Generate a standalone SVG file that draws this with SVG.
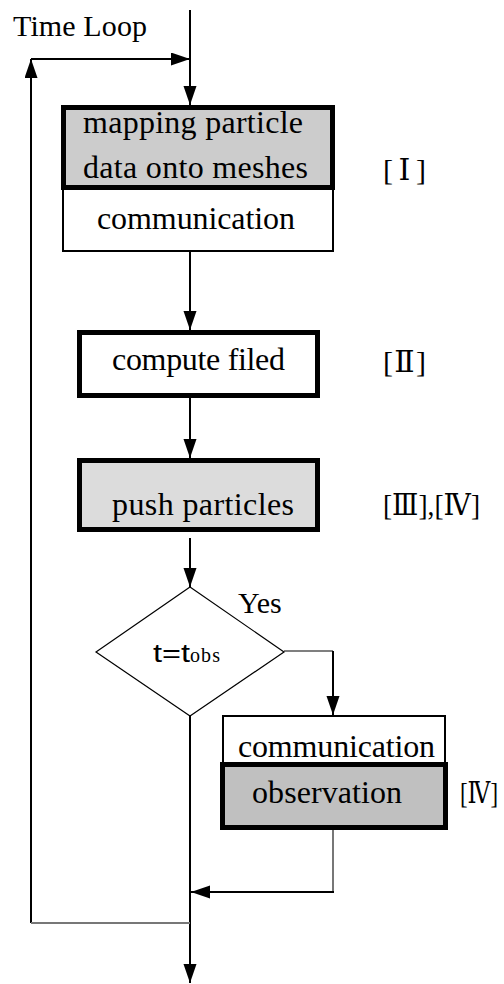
<svg xmlns="http://www.w3.org/2000/svg" width="504" height="984" viewBox="0 0 504 984">
  <style>
    text { font-family: "Liberation Serif", "DejaVu Serif", "Noto Sans CJK JP", serif; fill: #000; }
    .box { font-size: 32px; }
    .lbl { font-size: 30px; }
    .line { fill: none; stroke: #000; stroke-width: 2; }
    .thin { fill: none; stroke: #000; stroke-width: 1.2; }
    .grey { fill: none; stroke: #777; stroke-width: 2; }
    .thick { stroke: #000; stroke-width: 5; }
  </style>
  <defs>
    <marker id="arrow" markerUnits="userSpaceOnUse" markerWidth="20" markerHeight="14" refX="19" refY="6.5" orient="auto">
      <path d="M0,0 L19,6.5 L0,13 z" fill="#000"/>
    </marker>
  </defs>
  <rect width="504" height="984" fill="#fff"/>

  <!-- connectors -->
  <g id="connectors">
    <line class="line" x1="190" y1="10" x2="190" y2="105" marker-end="url(#arrow)"/>
    <line class="line" x1="31" y1="923" x2="31" y2="59" marker-end="url(#arrow)"/>
    <line class="line" x1="31" y1="59" x2="190" y2="59" marker-end="url(#arrow)"/>
    <line class="line" x1="190" y1="252" x2="190" y2="330" marker-end="url(#arrow)"/>
    <line class="line" x1="190" y1="398" x2="190" y2="458" marker-end="url(#arrow)"/>
    <line class="line" x1="190" y1="538" x2="190" y2="587" marker-end="url(#arrow)"/>
    <polyline class="thin" points="284,651 333,651"/>
    <line class="line" x1="333" y1="651" x2="333" y2="715" marker-end="url(#arrow)"/>
    <line class="grey" x1="333" y1="830" x2="333" y2="892"/>
    <line class="line" x1="334" y1="892" x2="191" y2="892" marker-end="url(#arrow)"/>
    <line class="line" x1="190" y1="716" x2="190" y2="983" marker-end="url(#arrow)"/>
    <line class="grey" x1="31" y1="923" x2="190" y2="923"/>
  </g>

  <text class="lbl" x="13" y="36" textLength="134">Time Loop</text>

  <!-- step I: mapping + communication -->
  <g id="node-mapping">
    <rect x="63" y="189" width="270" height="62" fill="#fff" stroke="#000" stroke-width="2"/>
    <rect class="thick" x="63.5" y="107.5" width="269" height="80" fill="#cccccc"/>
    <text class="box" x="83" y="133" textLength="220">mapping particle</text>
    <text class="box" x="83" y="178" textLength="225">data onto meshes</text>
    <text class="box" x="97" y="229" textLength="198">communication</text>
    <text class="lbl" x="383" y="180" textLength="43">[ Ⅰ ]</text>
  </g>

  <!-- step II -->
  <g id="node-field">
    <rect class="thick" x="79.5" y="332.5" width="238" height="63" fill="#fff"/>
    <text class="box" x="112" y="370" textLength="173">compute filed</text>
    <text class="lbl" x="383" y="372" textLength="43">[Ⅱ]</text>
  </g>

  <!-- steps III, IV -->
  <g id="node-push">
    <rect class="thick" x="79.5" y="460.5" width="238" height="69" fill="#dcdcdc"/>
    <text class="box" x="112" y="515" textLength="182">push particles</text>
    <text class="lbl" x="383" y="515" textLength="97" lengthAdjust="spacingAndGlyphs">[Ⅲ],[Ⅳ]</text>
  </g>

  <!-- decision -->
  <g id="node-decision">
    <polygon points="190,587 284,652 190,716 96,652" fill="#fff" stroke="#000" stroke-width="1.2"/>
    <text x="153" y="662" style="font-family: 'Liberation Sans', Arial, sans-serif; font-size: 25px" textLength="37" lengthAdjust="spacingAndGlyphs">t=t</text>
    <text x="190" y="662" font-size="20" textLength="30">obs</text>
    <text class="lbl" x="238" y="613">Yes</text>
  </g>

  <!-- observation -->
  <g id="node-observation">
    <rect x="223" y="716" width="222" height="47" fill="#fff" stroke="#000" stroke-width="2"/>
    <rect class="thick" x="222.5" y="764.5" width="223" height="63" fill="#c0c0c0"/>
    <text class="box" x="238" y="757" textLength="197">communication</text>
    <text class="box" x="252" y="803" textLength="150">observation</text>
    <text class="lbl" x="460" y="803" font-size="28" textLength="38" lengthAdjust="spacingAndGlyphs">[Ⅳ]</text>
  </g>
</svg>
